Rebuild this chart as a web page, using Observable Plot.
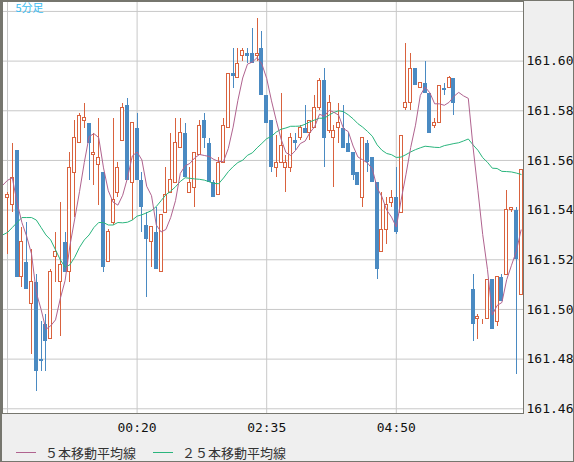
<!DOCTYPE html>
<html><head><meta charset="utf-8">
<script src="https://cdn.jsdelivr.net/npm/d3@7"></script>
<script src="https://cdn.jsdelivr.net/npm/@observablehq/plot@0.6"></script>
<style>
html,body{margin:0;padding:0;background:#efefef;}
#wrap{position:relative;width:574px;height:462px;overflow:hidden;background:#efefef;}
#chart svg{display:block;}
#border{position:absolute;left:0;top:0;width:574px;height:462px;box-sizing:border-box;border-style:solid;border-color:#76766e;border-width:1px 1px 1px 2px;pointer-events:none;}
.lg{position:absolute;top:444px;height:18px;font:13px "Noto Sans CJK JP",sans-serif;color:#333;line-height:18px;white-space:nowrap;}
.sw{position:absolute;top:452px;height:1px;width:20px;}
</style>
</head><body>
<div id="wrap">
  <div id="chart"></div>
  <div class="sw" style="left:16px;background:#b0638f"></div>
  <div class="lg" style="left:45px">５本移動平均線</div>
  <div class="sw" style="left:153px;background:#2ab57d"></div>
  <div class="lg" style="left:182px">２５本移動平均線</div>
  <div id="border"></div>
</div>
<script>
// 5-minute candles, index 0 = 22:05
const opens = [161.545,161.542,161.564,161.513,161.519,161.502,161.511,161.480,161.494,161.488,
161.521,161.511,161.527,161.515,161.555,161.567,161.576,161.575,161.562,161.558,
161.555,161.519,161.535,161.547,161.568,161.582,161.551,161.573,161.552,161.534,
161.527,161.531,161.515,161.539,161.547,161.551,161.565,161.571,161.547,161.549,
161.562,161.576,161.567,161.551,161.546,161.559,161.573,161.595,161.593,161.602,
161.603,161.603,161.602,161.605,161.586,161.576,161.557,161.559,161.557,161.557,
161.568,161.569,161.573,161.571,161.573,161.581,161.592,161.572,161.569,161.573,
161.573,161.567,161.563,161.555,161.545,161.567,161.561,161.551,161.523,161.532,
161.543,161.545,161.539,161.581,161.583,161.597,161.589,161.591,161.587,161.574,
161.575,161.589,161.589,161.593,161.583,161.583,161.583,161.508,161.496,161.494,
161.496,161.512,161.495,161.513,161.514,161.540,161.540,161.506];
const highs = [161.547,161.567,161.564,161.533,161.535,161.524,161.514,161.495,161.498,161.516,
161.531,161.543,161.531,161.563,161.576,161.579,161.583,161.575,161.571,161.577,
161.555,161.532,161.577,161.559,161.583,161.585,161.575,161.579,161.555,161.539,
161.533,161.541,161.538,161.557,161.571,161.577,161.577,161.575,161.557,161.563,
161.576,161.579,161.569,161.552,161.561,161.577,161.595,161.605,161.605,161.605,
161.605,161.613,161.617,161.612,161.586,161.576,161.570,161.587,161.562,161.571,
161.571,161.574,161.582,161.576,161.586,161.593,161.597,161.586,161.574,161.583,
161.582,161.571,161.563,161.555,161.569,161.568,161.561,161.551,161.547,161.545,
161.548,161.557,161.570,161.607,161.603,161.597,161.591,161.600,161.587,161.577,
161.590,161.591,161.594,161.593,161.583,161.583,161.583,161.514,161.498,161.496,
161.512,161.512,161.513,161.514,161.548,161.541,161.541,161.556];
const lows = [161.522,161.539,161.513,161.509,161.508,161.482,161.467,161.475,161.475,161.488,
161.511,161.489,161.515,161.511,161.537,161.567,161.573,161.552,161.550,161.542,
161.515,161.519,161.534,161.545,161.568,161.552,161.536,161.552,161.531,161.505,
161.517,161.516,161.515,161.539,161.547,161.551,161.565,161.553,161.547,161.541,
161.562,161.565,161.551,161.545,161.546,161.559,161.573,161.589,161.593,161.600,
161.599,161.599,161.600,161.586,161.575,161.555,161.553,161.559,161.547,161.555,
161.564,161.568,161.571,161.568,161.573,161.580,161.557,161.571,161.549,161.567,
161.565,161.563,161.552,161.550,161.541,161.555,161.551,161.512,161.523,161.526,
161.541,161.530,161.539,161.580,161.580,161.590,161.589,161.587,161.571,161.573,
161.575,161.586,161.589,161.578,161.583,161.583,161.583,161.487,161.488,161.494,
161.496,161.492,161.493,161.503,161.514,161.539,161.474,161.506];
const closes = [161.546,161.553,161.513,161.527,161.508,161.511,161.475,161.479,161.487,161.515,
161.523,161.518,161.515,161.557,161.569,161.578,161.577,161.567,161.563,161.561,
161.517,161.531,161.544,161.557,161.581,161.552,161.575,161.552,161.541,161.528,
161.533,161.516,161.538,161.546,161.552,161.567,161.571,161.553,161.551,161.563,
161.574,161.569,161.551,161.545,161.559,161.574,161.595,161.594,161.599,161.604,
161.602,161.599,161.603,161.586,161.575,161.557,161.559,161.566,161.559,161.569,
161.567,161.573,161.571,161.576,161.581,161.592,161.569,161.583,161.572,161.575,
161.565,161.563,161.554,161.550,161.569,161.559,161.551,161.516,161.532,161.542,
161.545,161.531,161.570,161.583,161.597,161.590,161.591,161.587,161.571,161.575,
161.590,161.588,161.593,161.583,161.583,161.583,161.583,161.494,161.497,161.494,
161.512,161.492,161.513,161.503,161.540,161.541,161.520,161.556];
// moving-average values before enough bars are visible (index -1 .. )
const ma5Head = [161.550,161.552,161.553,161.543,161.535];            // index -1..3
const ma25Head = [161.530,161.531,161.533,161.535,161.537,161.537,161.537,161.536,161.533,161.530,
161.528,161.524,161.520,161.517,161.518,161.521,161.525,161.528,161.530,161.533,
161.535,161.535,161.534,161.534,161.535];                                   // index -1..23
const gridPrices = [161.46,161.48,161.50,161.52,161.54,161.56,161.58,161.60,161.62];
const labelPrices = [161.46,161.48,161.50,161.52,161.54,161.56,161.58,161.60];
const gridIndex = [0,27,54,81];
const tickIndex = [27,54,81];
const tickLabels = ["00:20","02:35","04:50"];

const RED = "#d9623e", BLUE = "#4a8ac2", MA5C = "#b0638f", MA25C = "#2ab57d";

const candles = opens.map((o,i)=>({i, open:o, high:highs[i], low:lows[i], close:closes[i]}));
const up = candles.filter(d=>d.close>=d.open);
const down = candles.filter(d=>d.close<d.open);

const ma5 = [], ma25 = [];
for (let i=-1;i<closes.length;i++){
  ma5.push({i, v: i<4 ? ma5Head[i+1] : d3.mean(closes.slice(i-4,i+1))});
  ma25.push({i, v: i<24 ? ma25Head[i+1] : d3.mean(closes.slice(i-24,i+1))});
}

const chart = Plot.plot({
  width: 574, height: 440,
  marginLeft: 2, marginRight: 51, marginTop: 1, marginBottom: 27,
  style: {background: "transparent", fontFamily: "DejaVu Sans Mono, monospace", fontSize: "13px", color: "#111"},
  x: {type: "linear", domain: [-1.0417, 107.5], axis: null},
  y: {domain: [161.4581, 161.6240], axis: null},
  marks: [
    Plot.frame({fill: "white", stroke: "none"}),
    Plot.gridY({ticks: gridPrices, stroke: "#c8c8c8", strokeOpacity: 1}),
    Plot.gridX({ticks: gridIndex, stroke: "#c8c8c8", strokeOpacity: 1}),
    Plot.ruleX(candles, {x: "i", y1: "low", y2: "high", stroke: d => d.close>=d.open ? RED : BLUE, shapeRendering: "crispEdges", clip: "frame"}),
    Plot.rect(down, {x1: d=>d.i-0.42, x2: d=>d.i+0.42, y1: "open", y2: "close", fill: BLUE, shapeRendering: "crispEdges"}),
    Plot.rect(up, {x1: d=>d.i-0.31, x2: d=>d.i+0.31, y1: "open", y2: "close", fill: "white", stroke: RED, strokeWidth: 1, shapeRendering: "crispEdges"}),
    Plot.line(ma25, {x: "i", y: "v", stroke: MA25C, strokeWidth: 1, clip: "frame"}),
    Plot.line(ma5, {x: "i", y: "v", stroke: MA5C, strokeWidth: 1, clip: "frame"}),
    Plot.text(["5分足"], {frameAnchor: "top-left", dx: 13, dy: 3, fill: "#3bbcf0", fontSize: 11, fontFamily: "Noto Sans CJK JP", lineAnchor: "top"}),
    Plot.frame({stroke: "#76766e"}),
    Plot.axisY({anchor: "right", ticks: labelPrices, tickSize: 0, tickPadding: 3, tickFormat: d => d.toFixed(2), fontSize: 13, label: null}),
    Plot.axisX({anchor: "bottom", ticks: tickIndex, tickSize: 0, tickPadding: 9, tickFormat: d => tickLabels[tickIndex.indexOf(d)], fontSize: 13, label: null})
  ]
});
document.getElementById("chart").appendChild(chart);
</script>
</body></html>
